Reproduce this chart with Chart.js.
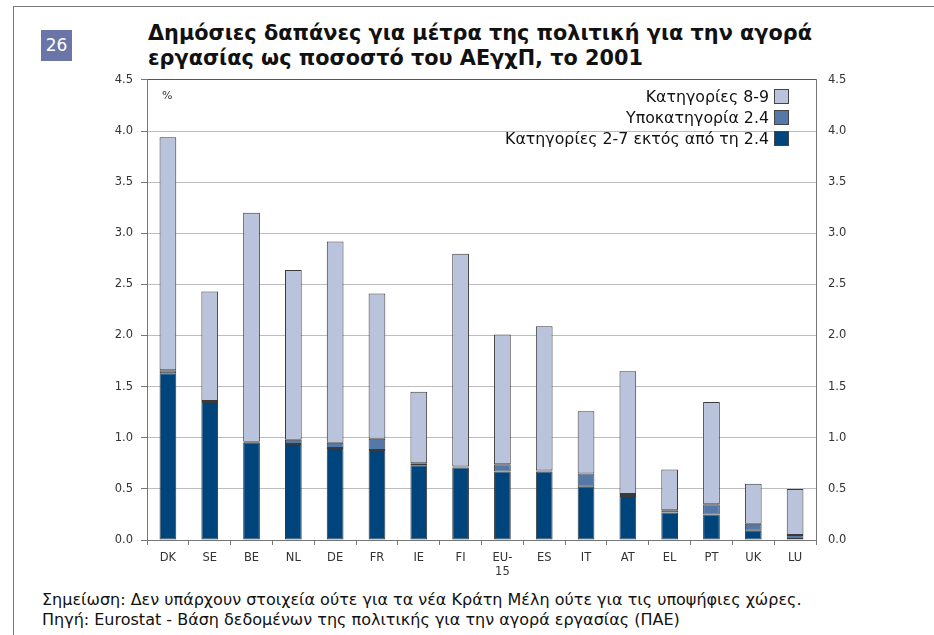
<!DOCTYPE html>
<html lang="el">
<head>
<meta charset="UTF-8">
<title>Δημόσιες δαπάνες</title>
<script src="https://cdn.jsdelivr.net/npm/chart.js"></script>
<style>
  html, body { margin: 0; padding: 0; background: #fff; }
  body { width: 934px; height: 635px; position: relative; overflow: hidden; font-family: "DejaVu Sans", Verdana, sans-serif; color: #111; }
  #frame { position: absolute; left: 13px; top: 6px; right: -2px; bottom: -2px; border-top: 1px solid #777; border-left: 1px solid #777; }
  #badge { position: absolute; left: 41px; top: 30px; width: 31px; height: 31px; background: #6a76a8; color: #fff; font-size: 17px; line-height: 31px; text-align: center; }
  #title { position: absolute; left: 148px; top: 21px; font-weight: bold; font-size: 20.8px; line-height: 25px; }
  #wrap { position: absolute; left: 80px; top: 61px; width: 790px; height: 519px; }
  #legend { position: absolute; right: 145px; top: 86px; font-size: 15.8px; line-height: 21px; text-align: right; }
  #legend div { white-space: nowrap; }
  #legend span.box { display: inline-block; width: 13px; height: 13px; border: 1px solid #444; vertical-align: -2px; margin-left: 5px; }
  #pct { position: absolute; left: 162px; top: 89px; font-size: 11px; color: #333; }
  #notes { position: absolute; left: 42px; top: 590px; font-size: 16px; line-height: 20px; }
</style>
</head>
<body>
<div id="frame"></div>
<div id="badge">26</div>
<div id="title">Δημόσιες δαπάνες για μέτρα της πολιτική για την αγορά<br>εργασίας ως ποσοστό του ΑΕγχΠ, το 2001</div>
<div id="wrap"><canvas id="chart"></canvas></div>
<div id="pct">%</div>
<div id="legend"></div>
<div id="notes">Σημείωση: Δεν υπάρχουν στοιχεία ούτε για τα νέα Κράτη Μέλη ούτε για τις υποψήφιες χώρες.<br>Πηγή: Eurostat - Βάση δεδομένων της πολιτικής για την αγορά εργασίας (ΠΑΕ)</div>

<script>
const countries = ['DK', 'SE', 'BE', 'NL', 'DE', 'FR', 'IE', 'FI', ['EU-', '15'], 'ES', 'IT', 'AT', 'EL', 'PT', 'UK', 'LU'];

// Κατηγορίες 2-7 εκτός από τη 2.4
const cat27 = [1.63, 1.35, 0.95, 0.94, 0.90, 0.88, 0.73, 0.71, 0.67, 0.67, 0.52, 0.43, 0.27, 0.25, 0.09, 0.01];
// Υποκατηγορία 2.4
const sub24 = [0.03, 0.01, 0.01, 0.04, 0.05, 0.11, 0.02, 0.01, 0.07, 0.01, 0.13, 0.02, 0.02, 0.10, 0.07, 0.04];
// Κατηγορίες 8-9
const cat89 = [2.28, 1.07, 2.24, 1.66, 1.97, 1.42, 0.70, 2.08, 1.27, 1.41, 0.61, 1.20, 0.40, 1.00, 0.39, 0.45];

const yTicks = [0, 0.5, 1, 1.5, 2, 2.5, 3, 3.5, 4, 4.5];

const labelsLegend = ['Κατηγορίες 8-9', 'Υποκατηγορία 2.4', 'Κατηγορίες 2-7 εκτός από τη 2.4'];
const colors = ['#b9c3dc', '#5478a8', '#00447c'];

document.getElementById('legend').innerHTML = labelsLegend.map((l, i) =>
  '<div>' + l + '<span class="box" style="background:' + colors[i] + '"></span></div>').join('');

const tickFont = { family: 'DejaVu Sans', size: 11.5 };

new Chart(document.getElementById('chart'), {
  type: 'bar',
  data: {
    labels: countries,
    datasets: [
      { label: labelsLegend[2], data: cat27, backgroundColor: colors[2] },
      { label: labelsLegend[1], data: sub24, backgroundColor: colors[1] },
      { label: labelsLegend[0], data: cat89, backgroundColor: colors[0] }
    ].map(d => Object.assign(d, { borderColor: '#3a3a3a', borderWidth: 1, borderSkipped: false, barPercentage: 0.4, categoryPercentage: 1 }))
  },
  options: {
    responsive: true,
    maintainAspectRatio: false,
    animation: false,
    layout: { padding: 0 },
    plugins: { legend: { display: false }, tooltip: { enabled: false } },
    scales: {
      x: {
        stacked: true,
        grid: { offset: true, drawOnChartArea: false, tickLength: 5, color: '#777' },
        border: { color: '#777' },
        ticks: { color: '#333', font: tickFont, padding: 6, maxRotation: 0, autoSkip: false },
        afterFit: s => { s.height = 40; }
      },
      y: {
        stacked: true,
        min: 0, max: 4.5,
        afterBuildTicks: s => { s.ticks = yTicks.map(v => ({ value: v })); },
        grid: { color: c => c.tick && c.tick.value === 4.5 ? '#555' : '#bdbdbd', tickColor: '#777', tickLength: 6 },
        border: { color: '#777' },
        ticks: { color: '#333', font: tickFont, padding: 8, callback: v => v.toFixed(1) },
        afterFit: s => { s.width = 67; }
      },
      y2: {
        position: 'right',
        min: 0, max: 4.5,
        afterBuildTicks: s => { s.ticks = yTicks.map(v => ({ value: v })); },
        grid: { drawOnChartArea: false, drawTicks: false },
        border: { color: '#777' },
        ticks: { color: '#333', font: tickFont, padding: 12, callback: v => v.toFixed(1) },
        afterFit: s => { s.width = 54; }
      }
    }
  }
});
</script>
</body>
</html>
